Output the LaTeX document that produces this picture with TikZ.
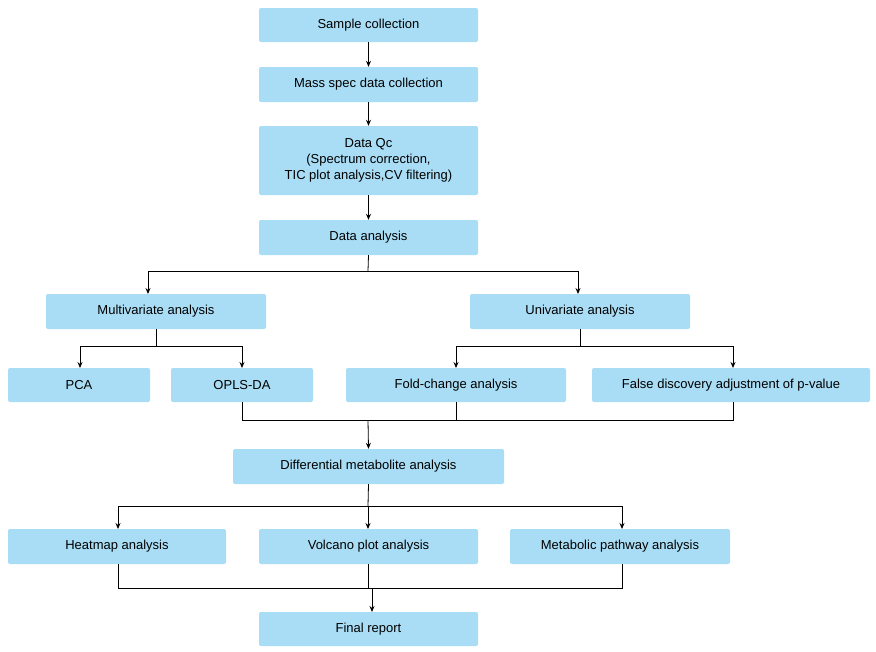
\documentclass[tikz,border=0pt]{standalone}
\usepackage{fontspec}
\setmainfont{Liberation Sans}
\usetikzlibrary{arrows.meta}
\definecolor{boxblue}{HTML}{A9DDF5}
\begin{document}
\begin{tikzpicture}[x=1pt,y=-1pt,
  box/.style={fill=boxblue,rounded corners=2pt,inner sep=0pt,align=center,font=\fontsize{13}{16}\selectfont},
  ln/.style={line width=0.8pt},
  arr/.style={ln,-{Stealth[length=6pt,width=5pt]}}]
\useasboundingbox (0,0) rectangle (876,651);
\newcommand\bx[6]{\node[box,minimum width=#3-#2,minimum height=#5-#4] (#1) at ({(#2+#3)/2},{(#4+#5)/2}) {#6};}
\bx{s}{259}{478}{8}{42}{Sample collection}
\bx{m}{259}{478}{67}{102}{Mass spec data collection}
\bx{q}{259}{478}{126}{195}{Data Qc\\(Spectrum correction,\\TIC plot analysis,CV filtering)}
\bx{da}{259}{478}{220}{255}{Data analysis}
\bx{mv}{46}{266}{294}{329}{Multivariate analysis}
\bx{uv}{470}{690}{294}{329}{Univariate analysis}
\bx{pca}{8}{150}{368}{402}{PCA}
\bx{opls}{171}{313}{368}{402}{OPLS-DA}
\bx{fc}{346}{566}{368}{402}{Fold-change analysis}
\bx{fd}{592}{870}{368}{402}{False discovery adjustment of p-value}
\bx{dm}{233}{504}{449}{484}{Differential metabolite analysis}
\bx{hm}{8}{226}{529}{564}{Heatmap analysis}
\bx{vp}{259}{478}{529}{564}{Volcano plot analysis}
\bx{mp}{510}{730}{529}{564}{Metabolic pathway analysis}
\bx{fr}{259}{478}{612}{646}{Final report}
\draw[arr] (s) -- (m);
\draw[arr] (m) -- (q);
\draw[arr] (q) -- (da);
% data analysis split
\coordinate (j1) at (368,271);
\draw[ln] (da.south) -- (j1);
\draw[ln] (148,271) -- (578,271);
\draw[arr] (148,271) -- (148,294);
\draw[arr] (578,271) -- (578,294);
% multivariate split
\draw[ln] (156,329) -- (156,346);
\draw[ln] (80,346) -- (242,346);
\draw[arr] (80,346) -- (80,368);
\draw[arr] (242,346) -- (242,368);
% univariate split
\draw[ln] (580,329) -- (580,346);
\draw[ln] (456,346) -- (733,346);
\draw[arr] (456,346) -- (456,368);
\draw[arr] (733,346) -- (733,368);
% merge
\draw[ln] (242,402) -- (242,420) -- (733,420) -- (733,402);
\draw[ln] (456,402) -- (456,420);
\coordinate (j2) at (368,420);
\draw[arr] (j2) -- (dm.north);
% differential split
\draw[ln] (dm.south) -- (368,506);
\draw[ln] (118,506) -- (622,506);
\draw[arr] (118,506) -- (118,529);
\draw[arr] (368,506) -- (368,529);
\draw[arr] (622,506) -- (622,529);
% final merge
\draw[ln] (118,564) -- (118,588) -- (622,588) -- (622,564);
\draw[ln] (368,564) -- (368,588);
\coordinate (j3) at (372,588);
\draw[arr] (j3) -- (372,612);
\end{tikzpicture}
\end{document}
